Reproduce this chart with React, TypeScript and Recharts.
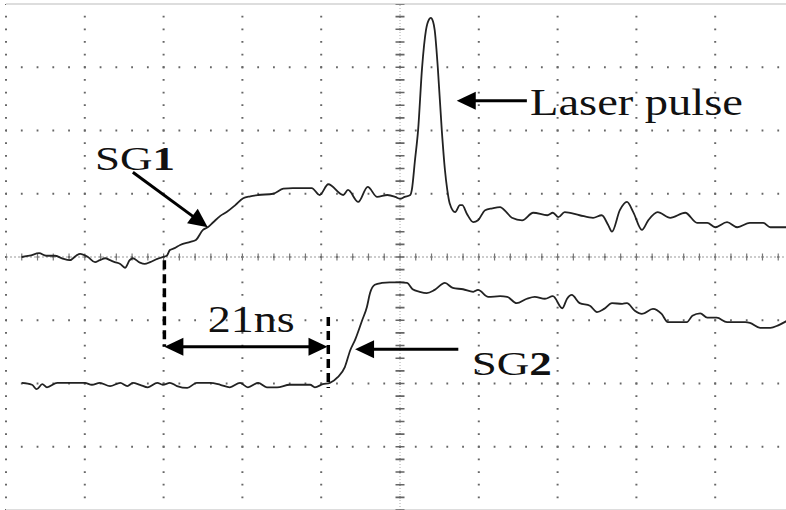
import { LineChart, Line, XAxis, YAxis, CartesianGrid, ReferenceLine, ReferenceDot } from "recharts";

// scope trace: time in ns (10 ns/div), level in divisions
const sg1Time = [
  -48.0, -47.0, -45.8, -44.9, -43.8, -42.9, -41.9, -41.1, -40.6, -39.6,
  -38.7, -38.1, -37.4, -36.8, -36.2, -35.5, -34.9, -34.3, -33.9, -33.0,
  -32.4, -31.7, -30.8, -30.1, -29.6, -29.2, -28.6, -27.9, -26.6, -25.9,
  -25.0, -24.4, -23.7, -22.8, -22.0, -20.9, -19.9, -19.0, -18.0, -16.1,
  -14.8, -13.6, -11.2, -10.2, -9.1, -7.2, -6.6, -5.3, -4.1, -2.9,
  -1.6, -0.6, 0, 0.6, 1.3, 1.5, 1.9, 2.3, 2.8, 3.3,
  3.7, 3.9, 4.2, 4.4, 4.8, 5.3, 5.7, 6.0, 6.3, 7.0,
  7.6, 7.9, 8.5, 9.3, 9.9, 10.8, 11.7, 12.7, 13.5, 14.2,
  15.5, 16.9, 18.7, 19.4, 20.1, 20.9, 22.8, 24.5, 25.6, 26.4,
  26.9, 27.9, 28.8, 29.6, 30.7, 31.5, 32.7, 34.3, 36.2, 37.7,
  39.0, 40.0, 41.5, 42.8, 44.4, 46.1, 47.0, 49.1,
];
const sg1Level = [
  0, 0.02, 0.06, 0.02, 0.02, -0.02, -0.05, 0.02, 0.05, 0,
  -0.08, -0.05, -0.02, -0.05, -0.08, -0.11, -0.17, -0.05, -0.02, -0.09,
  -0.11, -0.08, -0.03, 0, 0.02, 0.11, 0.14, 0.19, 0.24, 0.27,
  0.43, 0.47, 0.55, 0.65, 0.71, 0.82, 0.93, 0.96, 0.98, 1.0,
  1.08, 1.09, 1.09, 0.98, 1.15, 0.98, 1.06, 0.87, 1.11, 0.95,
  0.98, 0.95, 0.92, 0.95, 0.98, 1.06, 1.53, 2.01, 2.99, 3.59,
  3.76, 3.78, 3.72, 3.59, 2.99, 2.01, 1.38, 1.06, 0.85, 0.71,
  0.82, 0.82, 0.68, 0.55, 0.58, 0.74, 0.77, 0.79, 0.71, 0.62,
  0.58, 0.7, 0.66, 0.7, 0.63, 0.71, 0.66, 0.62, 0.66, 0.51,
  0.4, 0.74, 0.87, 0.71, 0.43, 0.58, 0.71, 0.62, 0.7, 0.54,
  0.54, 0.47, 0.55, 0.47, 0.54, 0.54, 0.47, 0.47,
];

const sg2Time = [
  -48.0, -46.7, -46.1, -45.4, -44.8, -43.5, -40.0, -39.1, -38.1, -36.8,
  -35.5, -34.6, -33.9, -33.0, -32.0, -30.8, -30.1, -29.2, -28.3, -27.0,
  -25.8, -24.1, -22.8, -21.6, -20.3, -19.3, -18.0, -16.9, -15.6, -14.0,
  -11.4, -10.8, -9.8, -8.9, -7.9, -7.0, -6.3, -5.7, -4.8, -4.2,
  -3.8, -3.2, -2.3, -1.3, 0, 0.9, 1.6, 2.5, 3.4, 4.4,
  5.7, 6.7, 8.0, 9.3, 9.9, 11.2, 12.7, 13.6, 14.8, 16.1,
  17.1, 18.4, 19.4, 20.6, 21.2, 21.8, 22.8, 24.1, 25.0, 25.9,
  26.9, 28.2, 28.8, 29.8, 30.7, 32.1, 33.2, 34.0, 36.4, 37.1,
  38.1, 39.0, 40.2, 41.5, 43.8, 44.4, 45.7, 47.0, 48.0, 49.1,
];
const sg2Level = [
  -1.99, -2.02, -2.09, -2.01, -2.06, -1.99, -1.99, -2.02, -1.99, -2.04,
  -1.99, -2.04, -1.99, -2.02, -2.06, -1.99, -2.02, -1.99, -2.04, -2.07,
  -1.99, -1.99, -2.02, -2.06, -1.99, -2.06, -1.99, -2.06, -2.06, -2.02,
  -2.02, -2.06, -2.01, -1.99, -1.9, -1.74, -1.47, -1.31, -1.0, -0.79,
  -0.57, -0.44, -0.41, -0.4, -0.4, -0.41, -0.51, -0.55, -0.57, -0.52,
  -0.41, -0.49, -0.51, -0.55, -0.52, -0.63, -0.62, -0.63, -0.73, -0.66,
  -0.63, -0.66, -0.62, -0.81, -0.66, -0.6, -0.73, -0.77, -0.87, -0.82,
  -0.73, -0.74, -0.73, -0.85, -0.9, -0.82, -0.9, -1.03, -1.03, -0.93,
  -0.89, -0.96, -0.96, -1.03, -1.03, -1.04, -1.12, -1.12, -1.08, -1.01,
];

const timeTicks = [-50, -40, -30, -20, -10, 0, 10, 20, 30, 40, 50];
const levelTicks = [-4, -3, -2, -1, 0, 1, 2, 3, 4];

// annotations, in the same ns / div units
const sg1Arrow = [{ x: -33.9, y: 1.34 }, { x: -24.4, y: 0.47 }];
const laserArrow = [{ x: 16.1, y: 2.47 }, { x: 7.2, y: 2.47 }];
const sg2Arrow = [{ x: 7.4, y: -1.46 }, { x: -5.7, y: -1.46 }];
const delayArrow = [{ x: -29.9, y: -1.42 }, { x: -9.2, y: -1.42 }];
const startMark = [{ x: -29.9, y: -0.05 }, { x: -29.9, y: -1.42 }];
const endMark = [{ x: -9.1, y: -0.95 }, { x: -9.1, y: -2.07 }];
const labels = [
  { x: -38.7, y: 1.38, text: "SG", digit: "1" },
  { x: 16.5, y: 2.25, text: "Laser pulse", digit: "" },
  { x: -24.4, y: -1.19, text: "21ns", digit: "" },
  { x: 9.1, y: -1.87, text: "SG", digit: "2" },
];

const sg1 = sg1Time.map((t, i) => ({ t, v: sg1Level[i] }));
const sg2 = sg2Time.map((t, i) => ({ t, v: sg2Level[i] }));

// label text is stretched sideways in the original, so fit it to a width
const labelFit: Record<string, { w: number; size: number }> = {
  "SG1": { w: 80, size: 34 },
  "Laser pulse": { w: 213, size: 37 },
  "21ns": { w: 87, size: 37 },
  "SG2": { w: 80, size: 34 },
};

function head(x: number, y: number, a: number) {
  const len = 19, half = 9;
  const bx = x - len * Math.cos(a), by = y - len * Math.sin(a);
  const nx = -Math.sin(a) * half, ny = Math.cos(a) * half;
  return `${x},${y} ${bx + nx},${by + ny} ${bx - nx},${by - ny}`;
}

const arrow = (both: boolean) => (p: any) => {
  const { x1, y1, x2, y2 } = p;
  const a = Math.atan2(y2 - y1, x2 - x1);
  const ex = x2 - 12 * Math.cos(a), ey = y2 - 12 * Math.sin(a);
  const sx = both ? x1 + 12 * Math.cos(a) : x1, sy = both ? y1 + 12 * Math.sin(a) : y1;
  return (
    <g>
      <line x1={sx} y1={sy} x2={ex} y2={ey} stroke="#000" strokeWidth={3} />
      <polygon points={head(x2, y2, a)} fill="#000" />
      {both && <polygon points={head(x1, y1, a + Math.PI)} fill="#000" />}
    </g>
  );
};

const labelShape = (l: typeof labels[number]) => (p: any) => {
  const fit = labelFit[l.text + l.digit];
  return (
    <text
      x={p.cx}
      y={p.cy}
      textLength={fit.w}
      lengthAdjust="spacingAndGlyphs"
      fontFamily="'Liberation Serif', 'Times New Roman', serif"
      fontSize={fit.size}
      fill="#111"
    >
      {l.text}
      {l.digit && <tspan fontWeight="bold">{l.digit}</tspan>}
    </text>
  );
};

export default function App() {
  return (
    <div style={{ position: "fixed", left: 0, top: 0, width: 786, height: 510, overflow: "hidden", background: "#fff" }}>
      <LineChart width={800} height={514} margin={{ top: 4, right: 6, bottom: 4, left: 6 }}>
        <XAxis type="number" dataKey="t" domain={[-50, 50]} ticks={timeTicks} allowDataOverflow hide />
        <YAxis type="number" dataKey="v" domain={[-4, 4]} ticks={levelTicks} allowDataOverflow hide />
        <CartesianGrid vertical={false} stroke="#666" strokeWidth={2} strokeDasharray="1.8 13.96" strokeDashoffset={0.9} />
        <CartesianGrid horizontal={false} stroke="#666" strokeWidth={2} strokeDasharray="1.8 10.85" strokeDashoffset={0.9} />
        <ReferenceLine y={4} stroke="#ddd" strokeWidth={2} />
        <ReferenceLine y={-4} stroke="#ddd" strokeWidth={2} />
        <ReferenceLine y={0} stroke="#999" strokeDasharray="2 2" />
        <ReferenceLine y={0} stroke="#777" strokeWidth={7} strokeDasharray="1.2 14.56" strokeDashoffset={0.6} />
        <ReferenceLine x={0} stroke="#aaa" strokeDasharray="1 2" />
        <ReferenceLine x={0} stroke="#666" strokeWidth={9} strokeDasharray="1.6 11.05" strokeDashoffset={0.8} />
        <Line data={sg1} dataKey="v" type="monotone" stroke="#222" strokeWidth={1.8} dot={false} isAnimationActive={false} />
        <Line data={sg2} dataKey="v" type="monotone" stroke="#222" strokeWidth={1.8} dot={false} isAnimationActive={false} />
        <ReferenceLine segment={startMark} stroke="#000" strokeWidth={3.5} strokeDasharray="9 5" />
        <ReferenceLine segment={endMark} stroke="#000" strokeWidth={3.5} strokeDasharray="9 5" />
        <ReferenceLine segment={sg1Arrow} shape={arrow(false)} />
        <ReferenceLine segment={laserArrow} shape={arrow(false)} />
        <ReferenceLine segment={sg2Arrow} shape={arrow(false)} />
        <ReferenceLine segment={delayArrow} shape={arrow(true)} />
        {labels.map((l) => (
          <ReferenceDot key={l.text + l.digit} x={l.x} y={l.y} r={0} shape={labelShape(l)} />
        ))}
      </LineChart>
    </div>
  );
}
